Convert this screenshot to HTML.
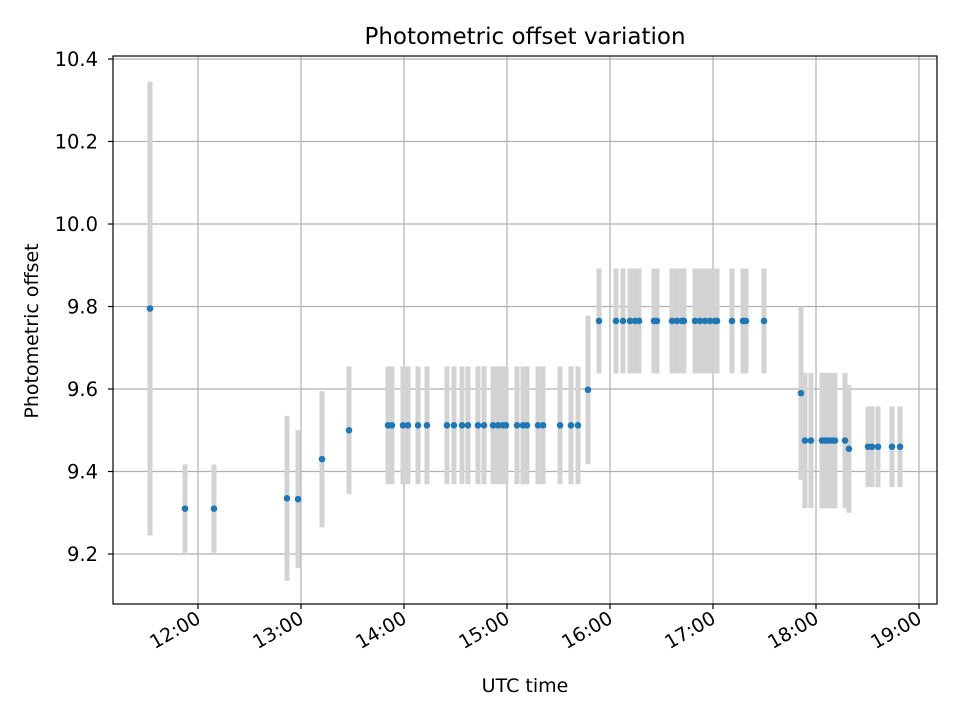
<!DOCTYPE html>
<html><head><meta charset="utf-8"><style>body{margin:0;background:#fff}svg{font-family:"DejaVu Sans","Liberation Sans",sans-serif}</style></head>
<body>
<svg id="chart" width="960" height="720" viewBox="0 0 960 720" xmlns="http://www.w3.org/2000/svg">
<rect width="960" height="720" fill="#fff"/>
<g id="grid"></g>
<g id="errs"></g>
<g id="pts"></g>
<rect x="113" y="56" width="824" height="548" fill="none" stroke="#000" stroke-width="1.2"/>
<g id="axes"></g>
<text x="525" y="44" text-anchor="middle" font-size="23">Photometric offset variation</text>
<text x="525" y="692" text-anchor="middle" font-size="19">UTC time</text>
<text transform="translate(38,331) rotate(-90)" text-anchor="middle" font-size="19">Photometric offset</text>
</svg>
<script>
const times=[11.534,11.874,12.155,12.864,12.971,13.204,13.466,
13.845,13.883,13.990,14.039,14.136,14.223,14.417,14.485,14.563,14.621,14.718,14.777,14.864,14.913,14.961,14.990,15.097,15.155,15.194,15.301,15.350,15.515,15.621,15.689,15.786,
15.893,16.058,16.126,16.194,16.243,16.282,16.427,16.456,16.602,16.650,16.699,16.718,16.825,16.874,16.922,16.971,17.019,17.039,17.184,17.291,17.320,17.495,
17.854,17.893,17.951,18.058,18.087,18.117,18.155,18.184,18.282,18.320,18.505,18.544,18.602,18.738,18.816];
const offsets=[9.795,9.31,9.31,9.335,9.333,9.43,9.50,
9.512,9.512,9.512,9.512,9.512,9.512,9.512,9.512,9.512,9.512,9.512,9.512,9.512,9.512,9.512,9.512,9.512,9.512,9.512,9.512,9.512,9.512,9.512,9.512,9.598,
9.765,9.765,9.765,9.765,9.765,9.765,9.765,9.765,9.765,9.765,9.765,9.765,9.765,9.765,9.765,9.765,9.765,9.765,9.765,9.765,9.765,9.765,
9.59,9.475,9.475,9.475,9.475,9.475,9.475,9.475,9.475,9.455,9.46,9.46,9.46,9.46,9.46];
const errors=[0.55,0.107,0.107,0.2,0.167,0.165,0.155,
0.143,0.143,0.143,0.143,0.143,0.143,0.143,0.143,0.143,0.143,0.143,0.143,0.143,0.143,0.143,0.143,0.143,0.143,0.143,0.143,0.143,0.143,0.143,0.143,0.18,
0.127,0.127,0.127,0.127,0.127,0.127,0.127,0.127,0.127,0.127,0.127,0.127,0.127,0.127,0.127,0.127,0.127,0.127,0.127,0.127,0.127,0.127,
0.21,0.164,0.164,0.164,0.164,0.164,0.164,0.164,0.164,0.155,0.098,0.098,0.098,0.098,0.098];
const yTicks=[9.2,9.4,9.6,9.8,10.0,10.2,10.4];
const xTicks=[12,13,14,15,16,17,18,19];
const xTickLabels=["12:00","13:00","14:00","15:00","16:00","17:00","18:00","19:00"];
const NS="http://www.w3.org/2000/svg";
const L=113,R=937,T=56,B=604;
const x0=11.1748,x1=19.1748,y0=9.0788,y1=10.4073;
const sx=v=>L+(v-x0)/(x1-x0)*(R-L);
const sy=v=>B-(v-y0)/(y1-y0)*(B-T);
function mk(tag,attrs,parent,txt){const e=document.createElementNS(NS,tag);for(const k in attrs)e.setAttribute(k,attrs[k]);if(txt!==undefined)e.textContent=txt;parent.appendChild(e);return e;}
const grid=document.getElementById('grid'),axes=document.getElementById('axes'),errs=document.getElementById('errs'),pts=document.getElementById('pts');
yTicks.forEach(v=>{const y=sy(v);
 const g=mk('line',{x1:L,x2:R,y1:y,y2:y,stroke:'#b0b0b0','stroke-width':1.2},grid);
 
 mk('line',{x1:L-5,x2:L,y1:y,y2:y,stroke:'#000','stroke-width':1.2},axes);
 const t=mk('text',{x:L-15,y:y+7,'text-anchor':'end','font-size':19.5},axes,v.toFixed(1));
 });
xTicks.forEach((v,i)=>{const x=sx(v);
 const g=mk('line',{x1:x,x2:x,y1:T,y2:B,stroke:'#b0b0b0','stroke-width':1.2},grid);
 
 mk('line',{x1:x,x2:x,y1:B,y2:B+5,stroke:'#000','stroke-width':1.2},axes);
 const t=mk('text',{transform:`translate(${x+4},${B+18}) rotate(-30)`,'text-anchor':'end','font-size':19},axes,xTickLabels[i]);
 });
times.forEach((tv,i)=>{const x=sx(tv);
 const e=mk('line',{x1:x,x2:x,y1:sy(offsets[i]+errors[i]),y2:sy(offsets[i]-errors[i]),stroke:'#d3d3d3','stroke-width':5},errs);
 });
times.forEach((tv,i)=>{
 const c=mk('circle',{cx:sx(tv),cy:sy(offsets[i]),r:3.3,fill:'#1f77b4'},pts);
 });
</script>
</body></html>
